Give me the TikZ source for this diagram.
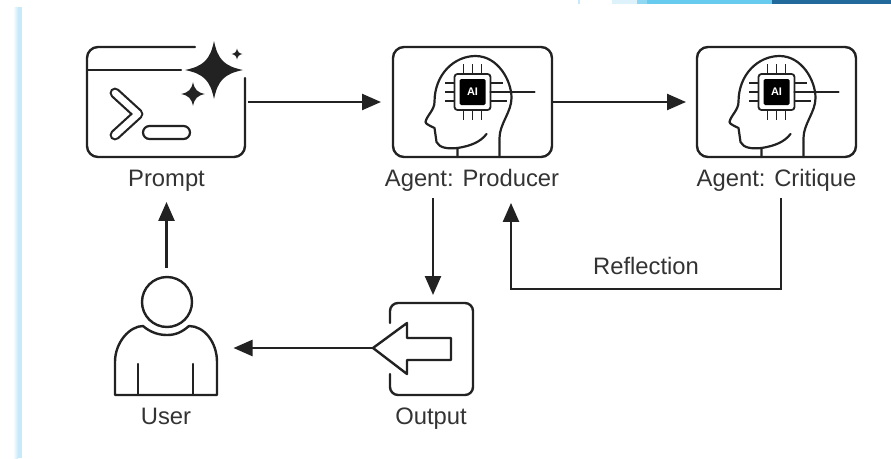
\documentclass[tikz,border=0pt]{standalone}
\usepackage{fontspec}
\setmainfont{Liberation Sans}
\usetikzlibrary{arrows.meta,calc}
\definecolor{ink}{HTML}{222222}
\definecolor{txt}{HTML}{333333}
\definecolor{barpale}{HTML}{C8E9F9}
\definecolor{barsky}{HTML}{66CBEF}
\definecolor{barmid}{HTML}{8FD8F3}
\definecolor{barfaint}{HTML}{DDF2FB}
\definecolor{bardark}{HTML}{236A9C}
\tikzset{
  icon/.style={draw=ink,line width=2.4pt,rounded corners=11pt,minimum width=159pt,minimum height=110pt,inner sep=0pt,outer sep=0pt},
  ghost/.style={inner sep=0pt,outer sep=0pt},
  ln/.style={draw=ink,line width=2.4pt,line cap=round,line join=round},
  thinln/.style={draw=ink,line width=1.7pt},
  lab/.style={text=txt,font=\fontsize{23.8}{26}\selectfont,inner sep=0pt,outer sep=0pt,anchor=base},
  flow/.style={draw=ink,line width=2.4pt,-{Triangle[length=19pt,width=16pt]}},
  sparkle/.pic={\fill[ink] (0,-1) .. controls (.13,-.36) and (.36,-.13) .. (1,0) .. controls (.36,.13) and (.13,.36) .. (0,1) .. controls (-.13,.36) and (-.36,.13) .. (-1,0) .. controls (-.36,-.13) and (-.13,-.36) .. (0,-1) -- cycle;},
  agenthead/.pic={
    \draw[ln,line width=2.2pt] (-15,55) -- (-15,46) .. controls (-25,47) and (-33,46) .. (-36,40)
      -- (-38,26) .. controls (-42,24) and (-47,22) .. (-47,20)
      .. controls (-46,14) and (-38,8) .. (-38,0)
      .. controls (-38,-28) and (-18,-46) .. (3,-46)
      .. controls (25,-46) and (39,-22) .. (39,-4)
      .. controls (39,10) and (27,22) .. (27,36) -- (27,55);
    \draw[ln,line width=2.2pt] (-15,46) .. controls (-2,44) and (8,40) .. (14,32);
    \fill[white] (-19,-29) rectangle (19,9);
    \draw[ink,line width=1.8pt,rounded corners=3pt] (-18,-28) rectangle (18,8);
    \fill[black,rounded corners=1.5pt] (-13,-23) rectangle (13,3);
    \node[ghost,text=white,font=\bfseries\fontsize{11}{11}\selectfont] at (0,-10) {AI};
    \foreach \d in {-9,0,9}{
      \draw[thinln] (\d,-28) -- (\d,-38);
      \draw[thinln] (\d,8) -- (\d,18);
      \draw[thinln] (-18,-10+\d) -- (-28,-10+\d);
    }
    \draw[thinln] (18,-19) -- (30,-19);
    \draw[ln,line width=2.2pt] (18,-10) -- (62,-10);
    \draw[thinln] (18,-1) -- (34,-1);
  }
}
\begin{document}
\begin{tikzpicture}[x=1pt,y=-1pt]
\useasboundingbox (0,0) rectangle (891,458);
% page decoration
\shade[left color=white,right color=barpale] (13,7) rectangle (18,458);
\fill[barpale] (18,7) rectangle (22,458);
\fill[barpale] (578,0) rectangle (580,4);
\fill[barfaint] (612,0) rectangle (637,4);
\fill[barmid] (637,0) rectangle (647,4);
\fill[barsky] (647,0) rectangle (772,4);
\fill[bardark] (772,0) rectangle (891,4);

% Prompt icon (window outline is broken by the sparkle)
\node[ghost,minimum width=159pt,minimum height=110pt] (prompt) at (166,102) {};
\draw[ln,rounded corners=11pt] (195,47) -- (87,47) -- (87,157) -- (245,157) -- (245,78);
\draw[ln] (87,70) -- (181,70);
\draw[ink,line width=2.2pt,line cap=round,line join=round,double=white,double distance=6.5pt] (115,93) -- (138,114) -- (115,135);
\draw[ink,line width=2.2pt,rounded corners=6.5pt] (143,126) rectangle (190,139);
\pic[scale=29] at (214,70) {sparkle};
\pic[scale=12] at (193,94) {sparkle};
\pic[scale=5.5] at (237,54) {sparkle};

% Agent icons
\node[icon] (producer) at (472.5,102) {};
\pic at (472.5,102) {agenthead};
\node[icon] (critique) at (776.5,102) {};
\pic at (776.5,102) {agenthead};

% Output icon
\node[ghost,minimum width=83pt,minimum height=92pt] (output) at (431.5,349) {};
\draw[ln,rounded corners=8pt] (390,323) -- (390,303) -- (473,303) -- (473,395) -- (390,395) -- (390,374);
\draw[ln] (373,348) -- (407,323) -- (407,338) -- (451,338) -- (451,360) -- (407,360) -- (407,374) -- cycle;
\coordinate (outtip) at (373,348);

% User icon
\node[ghost,minimum width=102pt,minimum height=118pt] (user) at (166.5,336) {};
\draw[ln] (167,302) circle[radius=25pt];
\draw[ln] (115,395) -- (115,362) .. controls (115,342) and (130,326) .. (143,326)
  .. controls (150,332) and (158,335) .. (167,335)
  .. controls (176,335) and (182,332) .. (189,326)
  .. controls (204,326) and (217,342) .. (217,362) -- (217,395) -- cycle;
\draw[ln] (138,364) -- (138,395);
\draw[ln] (193,364) -- (193,395);

% Labels
\node[lab] (promptlab) at (166.5,186) {Prompt};
\node[lab] (producerlab) at (472,186) {Agent: Producer};
\node[lab] (critiquelab) at (776.5,186) {Agent: Critique};
\node[lab] (outputlab) at (431,424) {Output};
\node[lab] (userlab) at (166,424) {User};
\node[lab] (refl) at (646,274) {Reflection};

% Connectors
\draw[flow,shorten <=2pt,shorten >=12pt] (prompt.east) -- (producer.west);
\draw[flow,shorten <=1pt,shorten >=11pt] (producer.east) -- (critique.west);
\draw[flow,shorten <=7pt,shorten >=8pt] ([xshift=-39pt]producerlab.south) -- ([xshift=1.5pt]output.north);
\draw[flow,shorten >=16pt] (outtip) -- (user.east |- outtip);
\draw[flow,shorten <=9pt,shorten >=11pt] (user.north) -- (promptlab.south);
\draw[flow,shorten <=7pt,shorten >=12pt] ([xshift=4.5pt]critiquelab.south) |- (646,289) -| ([xshift=39pt]producerlab.south);
\end{tikzpicture}
\end{document}
